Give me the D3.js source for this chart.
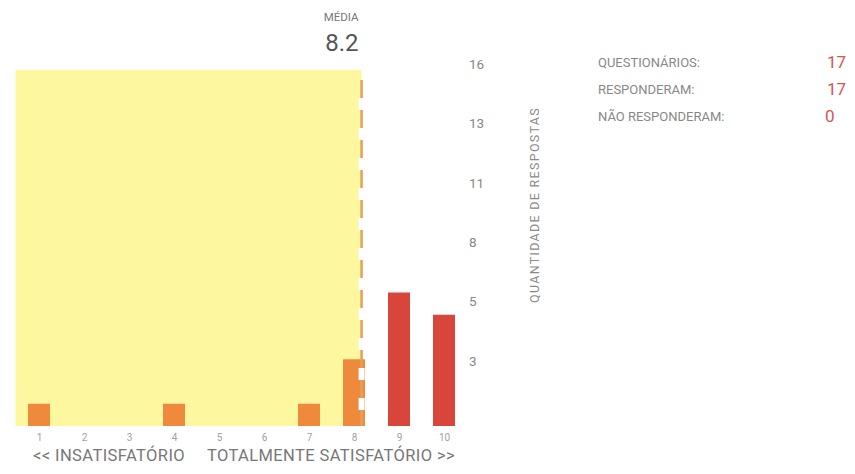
<!DOCTYPE html>
<html>
<head>
<meta charset="utf-8">
<script src="https://cdn.jsdelivr.net/npm/d3@7/dist/d3.min.js"></script>
<style>
  html, body { margin: 0; padding: 0; background: #fff; }
  svg { display: block; font-family: Roboto, "Liberation Sans", Arial, sans-serif; }
</style>
</head>
<body>
<svg id="chart" width="855" height="474"></svg>
<script>
// ---- data ----
const scores = [1, 2, 3, 4, 5, 6, 7, 8, 9, 10];
const counts = [1, 0, 0, 1, 0, 0, 1, 3, 6, 5];
const yTickValues = [16/6, 32/6, 48/6, 64/6, 80/6, 96/6];
const meanTitle = "MÉDIA";
const yAxisTitle = "QUANTIDADE DE RESPOSTAS";
const leftCaption = "<< INSATISFATÓRIO";
const rightCaption = "TOTALMENTE SATISFATÓRIO >>";
const statLabels = ["QUESTIONÁRIOS:", "RESPONDERAM:", "NÃO RESPONDERAM:"];
const statValues = [17, 17, 0];

// ---- derived ----
const total = d3.sum(counts);
const mean = d3.sum(scores.map((s, i) => s * counts[i])) / total;

const svg = d3.select("#chart");
const x = d3.scaleLinear().domain([0.5, 10.5]).range([16.5, 466.5]);
const y = d3.scaleLinear().domain([0, 16]).range([426, 70]);
const barW = 22;

// yellow "below mean" zone
svg.append("rect")
  .attr("x", x(0.5) - 1).attr("y", y(16))
  .attr("width", x(mean) - x(0.5) - 2).attr("height", y(0) - y(16))
  .attr("fill", "#fdf7a0");

// bars
svg.selectAll("rect.bar").data(scores.map((s, i) => ({ s, c: counts[i] })).filter(d => d.c > 0))
  .join("rect").attr("class", "bar")
  .attr("x", d => x(d.s) - barW / 2)
  .attr("y", d => y(d.c))
  .attr("width", barW)
  .attr("height", d => y(0) - y(d.c))
  .attr("fill", d => d.s <= mean ? "#ef893b" : "#d8463b");

// mean line
const mx = x(mean) - 3;
svg.append("line")
  .attr("x1", mx).attr("x2", mx).attr("y1", 80).attr("y2", y(0))
  .attr("stroke", "#fff").attr("stroke-width", 6)
  .attr("stroke-dasharray", "12,18").attr("stroke-dashoffset", -18);
svg.append("line")
  .attr("x1", mx).attr("x2", mx).attr("y1", 80).attr("y2", y(0))
  .attr("stroke", "#e2a259").attr("stroke-width", 2.5)
  .attr("stroke-dasharray", "18,12");

svg.append("text").attr("x", mx - 3).attr("y", 21).attr("text-anchor", "end")
  .attr("font-size", 11.5).attr("fill", "#777").text(meanTitle);
svg.append("text").attr("x", mx - 3).attr("y", 51).attr("text-anchor", "end")
  .attr("font-size", 24).attr("fill", "#555").text(d3.format(".1f")(mean));

// x axis
const xAxis = svg.append("g").attr("transform", `translate(0,${y(0) + 5})`)
  .call(d3.axisBottom(x).tickValues(scores).tickSize(0).tickFormat(d3.format("d")));
xAxis.select(".domain").remove();
xAxis.selectAll("text").attr("font-size", 10).attr("fill", "#a0a0a0").attr("font-family", "Roboto, sans-serif");

// y axis (right side, labels above tick)
const yAxis = svg.append("g").attr("transform", `translate(466,0)`)
  .call(d3.axisRight(y).tickValues(yTickValues).tickSize(0).tickFormat(d3.format(".0f")));
yAxis.select(".domain").remove();
yAxis.selectAll("text").attr("font-size", 13.5).attr("fill", "#888").attr("dy", "-0.1em")
  .attr("font-family", "Roboto, sans-serif");

// y axis title
svg.append("text")
  .attr("transform", `translate(539,205) rotate(-90)`)
  .attr("text-anchor", "middle").attr("font-size", 12.5).attr("fill", "#8a8a8a")
  .attr("letter-spacing", 1.3).text(yAxisTitle);

// captions
svg.append("text").attr("x", 33).attr("y", 461).attr("font-size", 16.5).attr("letter-spacing", 0.4)
  .attr("fill", "#777").text(leftCaption);
svg.append("text").attr("x", 455).attr("y", 461).attr("text-anchor", "end").attr("font-size", 16.5)
  .attr("letter-spacing", 0.4).attr("fill", "#777").text(rightCaption);

// stats
const sg = svg.append("g");
sg.selectAll("text.lab").data(statLabels).join("text").attr("class", "lab")
  .attr("x", 598).attr("y", (d, i) => 67 + i * 27)
  .attr("font-size", 13).attr("fill", "#888").text(d => d);
sg.selectAll("text.val").data(statValues).join("text").attr("class", "val")
  .attr("x", (d, i) => i === 2 ? 825 : 846).attr("y", (d, i) => 68 + i * 27)
  .attr("text-anchor", (d, i) => i === 2 ? "start" : "end")
  .attr("font-size", 17).attr("fill", "#d9534f").text(d => d);
</script>
</body>
</html>
